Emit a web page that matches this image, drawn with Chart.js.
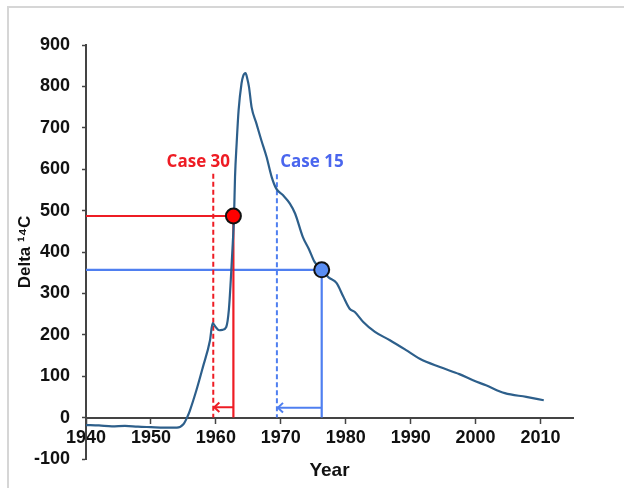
<!DOCTYPE html>
<html>
<head>
<meta charset="utf-8">
<title>Delta 14C</title>
<script src="https://cdn.jsdelivr.net/npm/chart.js"></script>
<style>
html,body{margin:0;padding:0;background:#fff;}
#cadre{position:relative;width:624px;height:488px;overflow:hidden;background:#fff;}
#cadre canvas{position:absolute;left:0;top:0;}
.bord-h{position:absolute;left:7px;top:6px;width:617px;height:2px;background:#d6d6d6;}
.bord-v{position:absolute;left:7px;top:6px;width:2px;height:482px;background:#d6d6d6;}
</style>
</head>
<body>
<div id="cadre">
  <div class="bord-h"></div><div class="bord-v"></div>
  <canvas id="chart" width="624" height="488"></canvas>
</div>
<script>
// Courbe du delta 14C atmosphérique
const annees = [1940, 1942, 1944, 1946, 1948, 1950, 1952, 1954, 1955, 1955.7, 1956, 1957, 1958, 1959.1, 1959.5,
  1960, 1960.5, 1961, 1961.6, 1962, 1962.3, 1962.6, 1962.8, 1962.95, 1963.2, 1963.5, 1963.95, 1964.2, 1964.57, 1964.85,
  1965.1, 1965.5, 1966.25, 1967, 1967.8, 1968.6, 1969.3, 1970.35, 1971.4, 1972.2, 1973.4, 1974.3, 1975.2, 1976.3,
  1977.4, 1978.6, 1979.6, 1980.6, 1981.4, 1982.7, 1984.5, 1986.8, 1989.3, 1991.4, 1994.5, 1997.5, 1999.6, 2001.6,
  2004.5, 2007.8, 2010.5];
const delta14C = [-18, -19, -21, -20, -22, -23, -24, -24, -16, 5, 17, 66, 122, 187, 228,
  218, 211, 212, 219, 260, 333, 420, 487, 581, 662, 742, 807, 825, 832, 818,
  799, 750, 710, 670, 630, 581, 553, 537, 517, 493, 436, 408, 376, 357,
  338, 325, 293, 263, 255, 231, 207, 187, 163, 142, 122, 105, 90, 78,
  59, 50, 42];

// Les deux cas annotés
const casNoms = ['Case 30', 'Case 15'];
const casAnnees = [1962.7, 1976.3];     // année mesurée (point)
const casValeurs = [487, 357];          // delta 14C mesuré
const naissances = [1959.6, 1969.4];    // ligne pointillée
const hautPointille = [589, 588];
const niveauFleche = [25, 24];

// Ticks
const yMin = -100, yMax = 900, yPas = 100;
const xMin = 1940, xMax = 2015, xPas = 10;

// styles
const rouge = '#ee1c24';
const bleu = '#4f7ff0';
const couleursCas = [rouge, bleu];
const remplissagePoints = ['#ff0000', '#5b8ef2'];
const texteCas = ['#ee1c24', '#4a66ee'];
const police = "'Liberation Sans', Arial, sans-serif";

const pts = (xs, ys) => xs.map((v, k) => ({x: v, y: ys[k]}));

// Lignes des cas : horizontale + verticale, pointillé, flèche
const lignesCas = [];
casNoms.forEach((nom, k) => {
  lignesCas.push({
    label: nom,
    data: [{x: xMin, y: casValeurs[k]}, {x: casAnnees[k], y: casValeurs[k]}, {x: casAnnees[k], y: 0}],
    borderColor: couleursCas[k], borderWidth: 2.2, pointRadius: 0, tension: 0
  });
  lignesCas.push({
    label: nom + ' naissance',
    data: [{x: naissances[k], y: hautPointille[k]}, {x: naissances[k], y: 0}],
    borderColor: couleursCas[k], borderWidth: 2, borderDash: [5, 3], pointRadius: 0
  });
  lignesCas.push({
    label: nom + ' flèche',
    data: [{x: casAnnees[k], y: niveauFleche[k]}, {x: naissances[k] + 0.15, y: niveauFleche[k]}],
    borderColor: couleursCas[k], borderWidth: 2, pointRadius: 0, fleche: true
  });
});

// Plugin : pointes de flèches et étiquettes "Case"
const annotations = {
  id: 'annotations',
  afterDatasetsDraw(chart, args, opts) {
    const {ctx, scales: {x, y}} = chart;
    chart.data.datasets.forEach((ds, i) => {
      if (!ds.fleche) return;
      const el = chart.getDatasetMeta(i).data;
      const a = el[el.length - 2], b = el[el.length - 1];
      const ang = Math.atan2(b.y - a.y, b.x - a.x);
      ctx.save();
      ctx.strokeStyle = ds.borderColor;
      ctx.lineWidth = ds.borderWidth;
      ctx.beginPath();
      ctx.moveTo(b.x - 7 * Math.cos(ang - 0.75), b.y - 7 * Math.sin(ang - 0.75));
      ctx.lineTo(b.x, b.y);
      ctx.lineTo(b.x - 7 * Math.cos(ang + 0.75), b.y - 7 * Math.sin(ang + 0.75));
      ctx.stroke();
      ctx.restore();
    });
    casNoms.forEach((nom, k) => {
      const pos = opts.etiquettes[k];
      ctx.save();
      ctx.font = "bold 17px 'Open Sans', sans-serif";
      ctx.fillStyle = texteCas[k];
      ctx.textAlign = 'center';
      ctx.textBaseline = 'middle';
      ctx.fillText(nom, x.getPixelForValue(pos.x), y.getPixelForValue(pos.y));
      ctx.restore();
    });
  }
};

new Chart(document.getElementById('chart'), {
  type: 'line',
  data: {
    datasets: [
      {
        label: 'points',
        data: pts(casAnnees, casValeurs),
        showLine: false,
        pointRadius: 7.5,
        pointBackgroundColor: remplissagePoints,
        pointBorderColor: '#111',
        pointBorderWidth: 2
      },
      {
        label: 'Delta 14C',
        data: pts(annees, delta14C),
        borderColor: '#2d5f8b',
        borderWidth: 2.2,
        pointRadius: 0,
        cubicInterpolationMode: 'monotone'
      },
      ...lignesCas
    ]
  },
  options: {
    responsive: false,
    animation: false,
    layout: {padding: {left: 0, top: 45, right: 51, bottom: 29}},
    plugins: {
      legend: {display: false},
      tooltip: {enabled: false},
      annotations: {etiquettes: [{x: 1957.3, y: 617}, {x: 1974.8, y: 617}]}
    },
    scales: {
      x: {
        type: 'linear',
        position: {y: 0},
        min: xMin, max: xMax,
        grid: {drawOnChartArea: false, tickLength: 5, tickColor: '#444', tickWidth: 1.5},
        border: {color: '#444', width: 2},
        ticks: {stepSize: xPas, includeBounds: false, padding: 5, color: '#111',
          font: {family: police, size: 18, weight: 'bold'}, callback: v => String(v)},
        title: {display: true, text: 'Year', color: '#111', padding: {top: 5, bottom: 0},
          font: {family: police, size: 19, weight: 'bold'}}
      },
      y: {
        min: yMin, max: yMax,
        afterFit: s => { s.width = 86; },
        grid: {drawOnChartArea: false, tickLength: 4, tickColor: '#444', tickWidth: 1.5},
        border: {color: '#444', width: 2},
        ticks: {stepSize: yPas, padding: 12, color: '#111',
          font: {family: police, size: 18, weight: 'bold'}},
        title: {display: true, text: 'Delta ¹⁴C', color: '#111', padding: {top: 15, bottom: 0},
          font: {family: police, size: 17, weight: 'bold'}}
      }
    }
  },
  plugins: [annotations]
});
</script>
</body>
</html>
